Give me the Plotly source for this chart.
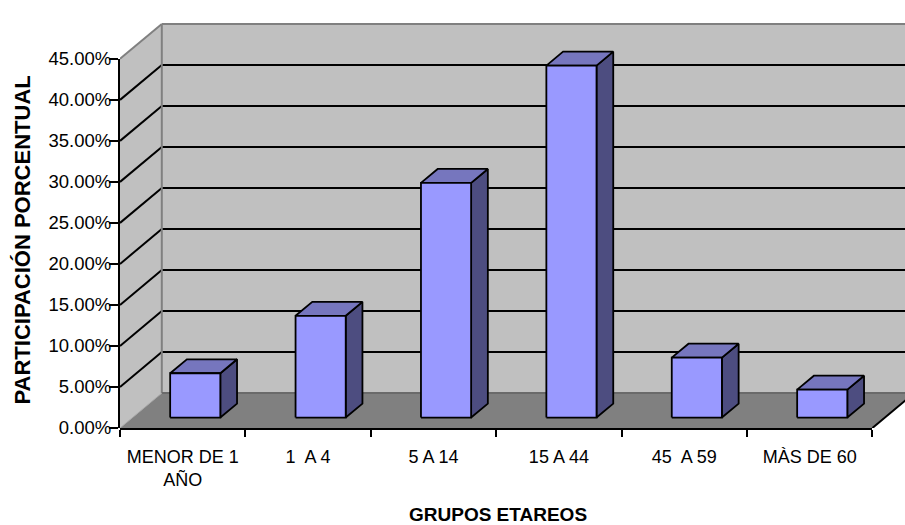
import plotly.graph_objects as go

# ---------------- data ----------------
categories = ["MENOR DE 1<br>AÑO", "1\u00a0 A 4", "5 A 14", "15 A 44", "45\u00a0 A 59", "MÀS DE 60"]
values = [5.4, 12.4, 28.6, 42.9, 7.3, 3.4]          # percent
y_tick_values = [0, 5, 10, 15, 20, 25, 30, 35, 40, 45]
y_tick_labels = [f"{v:.2f}%" for v in y_tick_values]
x_title = "GRUPOS ETAREOS"
y_title = "PARTICIPACIÓN PORCENTUAL"

# ---------------- geometry (pixels -> data units) ----------------
W, H = 905, 525
ML, MB = 120, 97
PLOT_W, PLOT_H = W - ML, H - MB
PX_PER_CAT = 125.4
PX_PER_PCT = 8.42
YMAX_AX = 45
DX = 41.8 / PX_PER_CAT      # depth offset (category units)
DY = 35.8 / PX_PER_PCT      # depth offset (percent units)
F_FRONT, F_BACK = 0.3, 0.7  # bar depth position
BAR_W = 0.4
N = len(categories)

x_lo = -0.5
x_hi = x_lo + PLOT_W / PX_PER_CAT
y_lo = 0.0
y_hi = PLOT_H / PX_PER_PCT

FONT = "Liberation Sans, Arial, sans-serif"

fig = go.Figure()


def poly(xs, ys, fill, line_color="black", line_width=1.8):
    fig.add_trace(go.Scatter(
        x=list(xs) + [xs[0]], y=list(ys) + [ys[0]], mode="lines",
        fill="toself", fillcolor=fill,
        line=dict(color=line_color, width=line_width),
        hoverinfo="skip", showlegend=False))


def seg(xs, ys, color, width):
    fig.add_trace(go.Scatter(
        x=xs, y=ys, mode="lines", line=dict(color=color, width=width),
        hoverinfo="skip", showlegend=False))


xl, xr = -0.5, N - 0.5
top = YMAX_AX

# back wall
poly([xl + DX, xr + DX, xr + DX, xl + DX], [DY, DY, top + DY, top + DY],
     "#C0C0C0", "#C0C0C0", 0)
# left wall
poly([xl, xl + DX, xl + DX, xl], [0, DY, top + DY, top], "#C0C0C0", "#C0C0C0", 0)
# floor
poly([xl, xr, xr + DX, xl + DX], [0, 0, DY, DY], "#808080", "#808080", 0)

# gridlines
for k in y_tick_values[1:-1]:
    seg([xl + DX, xr + DX], [k + DY, k + DY], "black", 2)
    seg([xl, xl + DX], [k, k + DY], "black", 2)

# wall edges
seg([xl + DX, xr + DX], [top + DY, top + DY], "#808080", 2)
seg([xl, xl + DX], [top, top + DY], "#808080", 2)
seg([xl + DX, xl + DX], [DY, top + DY], "#808080", 2)
seg([xl + DX, xr + DX], [DY, DY], "#6A6A6A", 2)
seg([xl, xl + DX], [0, DY], "#A8A8A8", 1)
seg([xr, xr + DX], [0, DY], "black", 2)

# bars
d = (F_BACK - F_FRONT) * DX
e = (F_BACK - F_FRONT) * DY
for i, v in enumerate(values):
    x0 = i - BAR_W / 2 + F_FRONT * DX
    x1 = x0 + BAR_W
    yb = F_FRONT * DY
    yt = yb + v
    poly([x1, x1 + d, x1 + d, x1], [yb, yb + e, yt + e, yt], "#4D4D80")
    poly([x0, x1, x1 + d, x0 + d], [yt, yt, yt + e, yt + e], "#7676BE")
    poly([x0, x1, x1, x0], [yb, yb, yt, yt], "#9999FF")

# dummy traces for helper axes
for xa, ya in [("x2", "y"), ("x3", "y"), ("x", "y2")]:
    fig.add_trace(go.Scatter(x=[None], y=[None], xaxis=xa, yaxis=ya,
                             showlegend=False, hoverinfo="skip"))

front_dom = (N * PX_PER_CAT) / PLOT_W

fig.update_layout(
    width=W, height=H,
    margin=dict(l=ML, r=0, t=0, b=MB),
    paper_bgcolor="white", plot_bgcolor="rgba(0,0,0,0)",
    font=dict(family=FONT, size=18, color="black"),
    xaxis=dict(range=[x_lo, x_hi], domain=[0, 1], visible=False, fixedrange=True),
    yaxis=dict(range=[y_lo, y_hi], domain=[0, 1], visible=False, fixedrange=True),
    xaxis2=dict(range=[-0.5, N - 0.5], domain=[0, front_dom], anchor="y",
                tickvals=[i - 0.5 for i in range(N + 1)], ticks="outside",
                ticklen=7, tickwidth=2, tickcolor="black",
                showticklabels=False, showline=True, linecolor="black",
                linewidth=2, showgrid=False, zeroline=False),
    xaxis3=dict(range=[-0.5, N - 0.5], domain=[0, front_dom], anchor="y",
                tickvals=list(range(N)), ticktext=categories, ticks="",
                showline=False, showgrid=False, zeroline=False,
                ticklabelstandoff=16,
                tickfont=dict(family=FONT, size=18, color="black")),
    yaxis2=dict(range=[0, YMAX_AX], domain=[0, YMAX_AX / y_hi], anchor="x",
                tickvals=y_tick_values, ticktext=y_tick_labels,
                ticks="outside", ticklen=9, tickwidth=2, tickcolor="black",
                ticklabelstandoff=-6,
                showline=True, linecolor="black", linewidth=2,
                showgrid=False, zeroline=False,
                tickfont=dict(family=FONT, size=18.5, color="black")),
)


def px_to_paper(px, py):
    return (px - ML) / PLOT_W, (H - MB - py) / PLOT_H


ax, ay = px_to_paper(497.5, 516.5)
fig.add_annotation(text=f"<b>{x_title}</b>", xref="paper", yref="paper",
                   x=ax, y=ay, xanchor="center", yanchor="middle",
                   showarrow=False, font=dict(family=FONT, size=19, color="black"))
tx, ty = px_to_paper(22.5, 235)
fig.add_annotation(text=f"<b>{y_title}</b>", xref="paper", yref="paper",
                   x=tx, y=ty, xanchor="center", yanchor="middle", textangle=-90,
                   showarrow=False, font=dict(family=FONT, size=22, color="black"))

fig.write_html("out.html")
